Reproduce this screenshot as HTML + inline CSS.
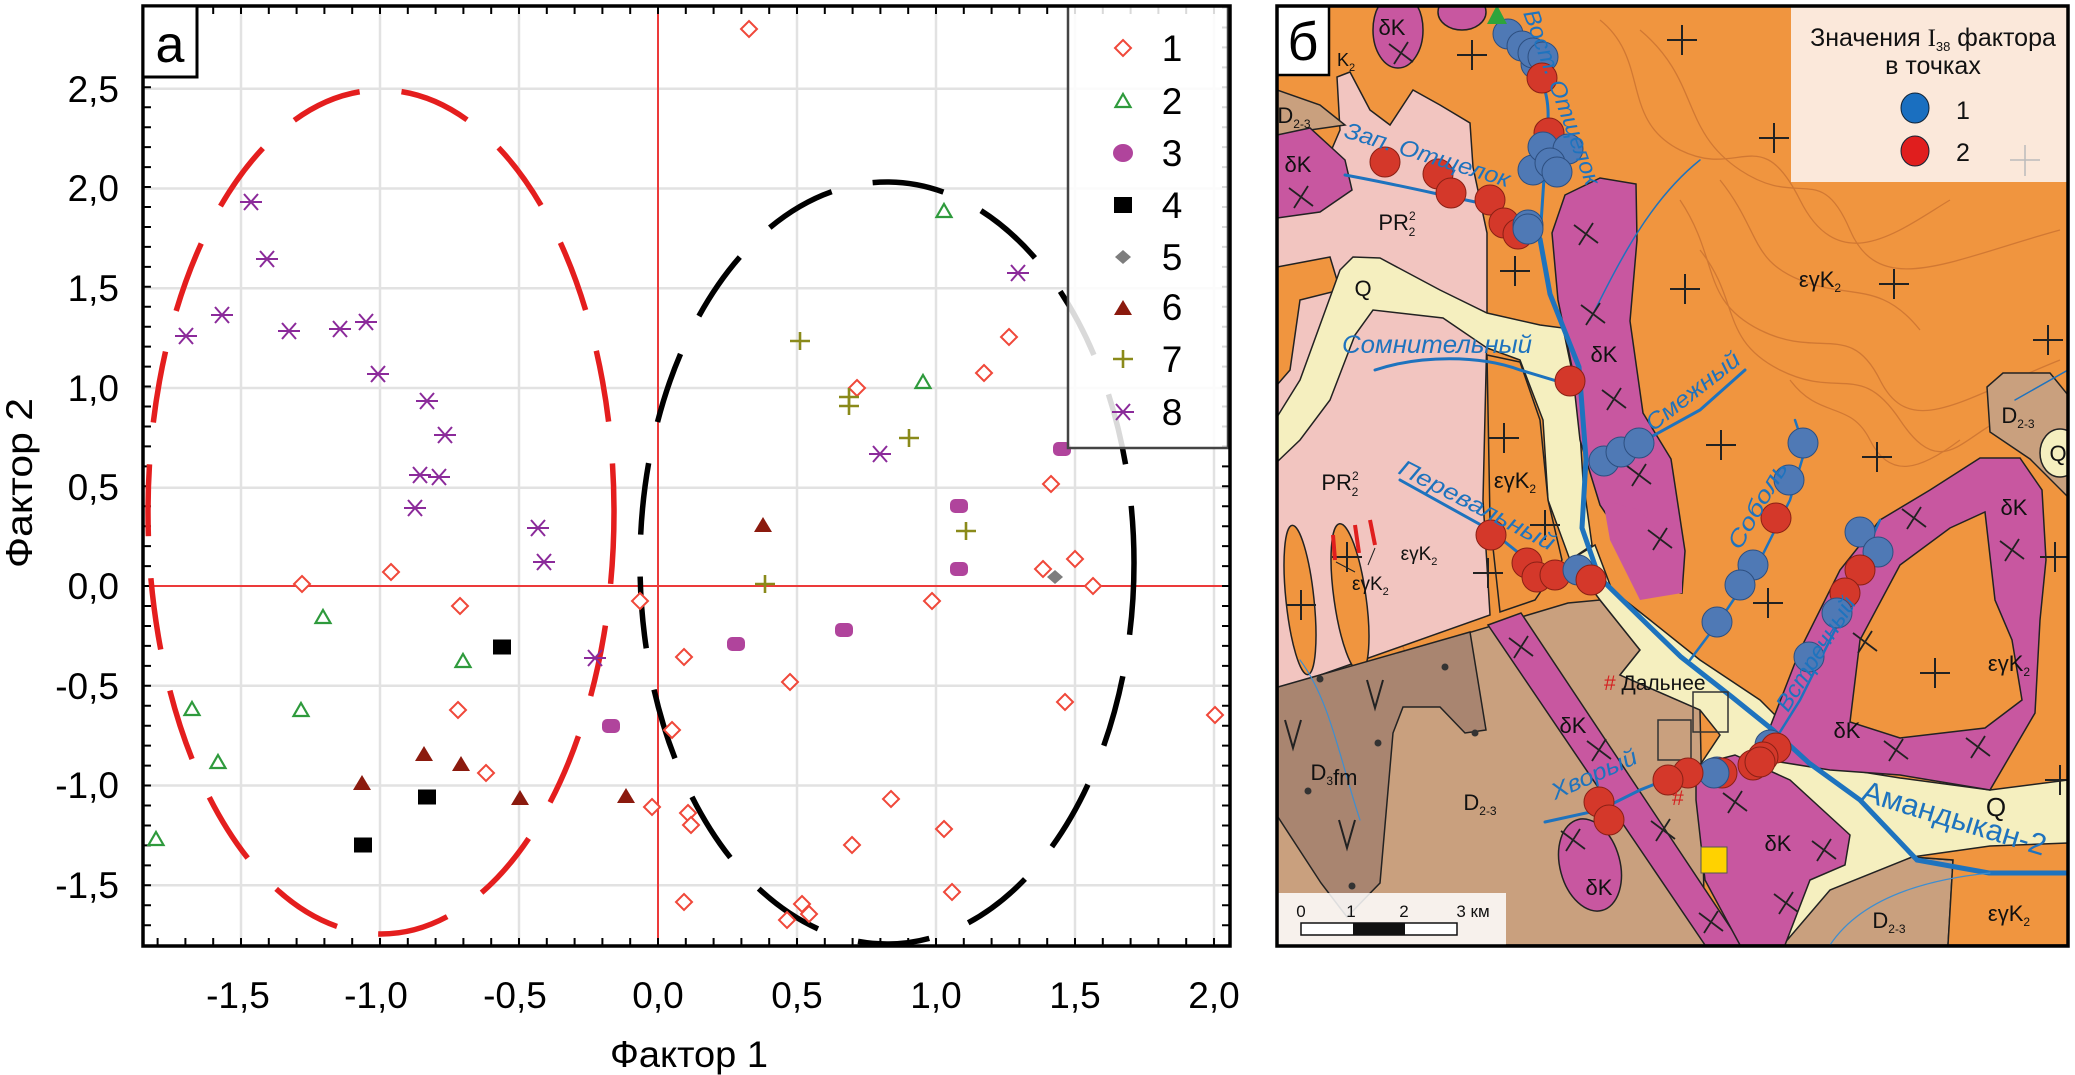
<!DOCTYPE html>
<html><head><meta charset="utf-8"><style>html,body{margin:0;padding:0;background:#fff}svg{display:block}</style></head>
<body>
<svg xmlns="http://www.w3.org/2000/svg" width="2075" height="1075" viewBox="0 0 2075 1075" font-family="'Liberation Sans', sans-serif">
<defs>
<polygon id="d1" points="0,-8 8,0 0,8 -8,0" fill="#fff" stroke="#f0483a" stroke-width="2"/>
<polygon id="t2" points="0,-7 7.5,6 -7.5,6" fill="none" stroke="#2e9a3c" stroke-width="2.2"/>
<rect id="c3" x="-9" y="-7" width="18" height="14" rx="5" fill="#b0449c"/>
<rect id="s4" x="-9" y="-7.5" width="18" height="15" fill="#000"/>
<polygon id="g5" points="0,-7 8,0 0,7 -8,0" fill="#7d7d7d"/>
<polygon id="r6" points="0,-8 9,7 -9,7" fill="#8b1a0e"/>
<path id="p7" d="M-10,0H10M0,-9V9" stroke="#8a8a1a" stroke-width="2.6"/>
<path id="a8" d="M-11,0H11M-7,-8L7,8M7,-8L-7,8" stroke="#8b2a9a" stroke-width="2"/>
<circle id="bc" r="15" fill="#4f79b5" stroke="#2d4f80" stroke-width="1"/>
<circle id="rc" r="15" fill="#d4382a" stroke="#8a2015" stroke-width="1"/>
<path id="pl" d="M-15,0H15M0,-15V15" stroke="#222" stroke-width="2"/>
<path id="xl" d="M-12,-9L12,9M-7,11L7,-11" stroke="#222" stroke-width="1.8"/>
</defs>

<!-- LEFT CHART -->
<g>
<g stroke="#e2e2e2" stroke-width="2.5">
<path d="M241,6V946M380,6V946M519,6V946M797,6V946M936,6V946M1075,6V946M1214,6V946"/>
<path d="M143,88.8H1230M143,188.5H1230M143,288.3H1230M143,388H1230M143,487.7H1230M143,685.8H1230M143,785.5H1230M143,885.3H1230"/>
</g>
<path d="M658,6V946M143,586H1230" stroke="#ec3a3a" stroke-width="2"/>
<!-- ticks -->
<g stroke="#000">
<line x1="147" y1="926.2" x2="147" y2="6" stroke-width="8" stroke-dasharray="2 17.95"/>
<line x1="1226" y1="926.2" x2="1226" y2="6" stroke-width="8" stroke-dasharray="2 17.95"/>
<line x1="156.6" y1="942" x2="1230" y2="942" stroke-width="8" stroke-dasharray="2 25.8"/>
<line x1="156.6" y1="10" x2="1230" y2="10" stroke-width="8" stroke-dasharray="2 25.8"/>
</g>
<!-- ellipses -->
<ellipse cx="381" cy="512" rx="233" ry="422" fill="none" stroke="#e41e1e" stroke-width="5.5" stroke-dasharray="72 42"/>
<ellipse cx="887" cy="563" rx="247" ry="381" fill="none" stroke="#000" stroke-width="5.5" stroke-dasharray="72 42"/>
<!-- series 1 -->
<g>
<use href="#d1" x="302" y="584"/><use href="#d1" x="391" y="572"/><use href="#d1" x="460" y="606"/><use href="#d1" x="458" y="710"/><use href="#d1" x="486" y="773"/><use href="#d1" x="640" y="601"/><use href="#d1" x="652" y="807"/>
<use href="#d1" x="749" y="29"/><use href="#d1" x="1009" y="337"/><use href="#d1" x="984" y="373"/><use href="#d1" x="857" y="388"/><use href="#d1" x="1051" y="484"/><use href="#d1" x="1075" y="559"/><use href="#d1" x="1043" y="569"/><use href="#d1" x="1093" y="586"/><use href="#d1" x="932" y="601"/><use href="#d1" x="684" y="657"/><use href="#d1" x="790" y="682"/><use href="#d1" x="1065" y="702"/><use href="#d1" x="1215" y="715"/><use href="#d1" x="672" y="730"/><use href="#d1" x="688" y="813"/><use href="#d1" x="691" y="825"/><use href="#d1" x="891" y="799"/><use href="#d1" x="852" y="845"/><use href="#d1" x="944" y="829"/><use href="#d1" x="684" y="902"/><use href="#d1" x="952" y="892"/><use href="#d1" x="802" y="904"/><use href="#d1" x="809" y="914"/><use href="#d1" x="787" y="920"/>
</g>
<g>
<use href="#t2" x="323" y="617"/><use href="#t2" x="463" y="661"/><use href="#t2" x="192" y="709"/><use href="#t2" x="301" y="710"/><use href="#t2" x="218" y="762"/><use href="#t2" x="156" y="839"/><use href="#t2" x="944" y="211"/><use href="#t2" x="923" y="382"/>
</g>
<g>
<use href="#c3" x="611" y="726"/><use href="#c3" x="1062" y="449"/><use href="#c3" x="959" y="506"/><use href="#c3" x="959" y="569"/><use href="#c3" x="844" y="630"/><use href="#c3" x="736" y="644"/>
</g>
<g><use href="#s4" x="502" y="647"/><use href="#s4" x="427" y="797"/><use href="#s4" x="363" y="845"/></g>
<use href="#g5" x="1055" y="577"/>
<g>
<use href="#r6" x="424" y="754"/><use href="#r6" x="461" y="764"/><use href="#r6" x="362" y="783"/><use href="#r6" x="520" y="798"/><use href="#r6" x="626" y="796"/><use href="#r6" x="763" y="525"/>
</g>
<g>
<use href="#p7" x="800" y="341"/><use href="#p7" x="849" y="397"/><use href="#p7" x="849" y="406"/><use href="#p7" x="909" y="438"/><use href="#p7" x="966" y="531"/><use href="#p7" x="765" y="584"/>
</g>
<g>
<use href="#a8" x="251" y="202"/><use href="#a8" x="267" y="259"/><use href="#a8" x="222" y="315"/><use href="#a8" x="186" y="336"/><use href="#a8" x="289" y="331"/><use href="#a8" x="340" y="329"/><use href="#a8" x="366" y="322"/><use href="#a8" x="378" y="374"/><use href="#a8" x="427" y="401"/><use href="#a8" x="445" y="435"/><use href="#a8" x="420" y="475"/><use href="#a8" x="439" y="477"/><use href="#a8" x="415" y="508"/><use href="#a8" x="538" y="528"/><use href="#a8" x="544" y="562"/><use href="#a8" x="595" y="658"/><use href="#a8" x="1018" y="273"/><use href="#a8" x="880" y="454"/>
</g>
<!-- legend -->
<rect x="1068" y="6" width="160" height="442" fill="#fff" fill-opacity="0.85" stroke="#444" stroke-width="2.5"/>
<g font-size="37" fill="#000" text-anchor="middle">
<use href="#d1" x="1123" y="48"/><text x="1172" y="61">1</text>
<use href="#t2" x="1123" y="101"/><text x="1172" y="114">2</text>
<ellipse cx="1123" cy="153" rx="10" ry="9" fill="#b0449c"/><text x="1172" y="166">3</text>
<rect x="1114" y="197" width="18" height="16" fill="#000"/><text x="1172" y="218">4</text>
<use href="#g5" x="1123" y="257"/><text x="1172" y="270">5</text>
<use href="#r6" x="1123" y="308"/><text x="1172" y="320">6</text>
<use href="#p7" x="1123" y="359"/><text x="1172" y="372">7</text>
<use href="#a8" x="1123" y="412"/><text x="1172" y="425">8</text>
</g>
<!-- axes box -->
<rect x="143" y="6" width="1087" height="940" fill="none" stroke="#000" stroke-width="3.5"/>
<rect x="143" y="6" width="54" height="71" fill="#fff" stroke="#000" stroke-width="3"/>
<text x="170" y="62" font-size="52" text-anchor="middle">а</text>
<!-- tick labels -->
<g font-size="37" text-anchor="middle">
<text x="238" y="1008">-1,5</text><text x="376" y="1008">-1,0</text><text x="515" y="1008">-0,5</text><text x="658" y="1008">0,0</text><text x="797" y="1008">0,5</text><text x="936" y="1008">1,0</text><text x="1075" y="1008">1,5</text><text x="1214" y="1008">2,0</text>
</g>
<g font-size="37" text-anchor="end">
<text x="119" y="102">2,5</text><text x="119" y="201">2,0</text><text x="119" y="301">1,5</text><text x="119" y="401">1,0</text><text x="119" y="500">0,5</text><text x="119" y="599">0,0</text><text x="119" y="699">-0,5</text><text x="119" y="798">-1,0</text><text x="119" y="898">-1,5</text>
</g>
<text x="689" y="1067" font-size="37" text-anchor="middle" textLength="158" lengthAdjust="spacingAndGlyphs">Фактор 1</text>
<text transform="translate(32,483) rotate(-90)" font-size="37" text-anchor="middle" textLength="170" lengthAdjust="spacingAndGlyphs">Фактор 2</text>
</g>

<!-- RIGHT MAP -->
<svg x="1277" y="6" width="791" height="940" viewBox="1277 6 791 940" overflow="hidden">
<rect x="1277" y="6" width="791" height="940" fill="#f0953f"/>
<!-- contour texture -->
<g fill="none" stroke="#b9622a" stroke-width="1.3" opacity="0.55">
<path d="M1600,20 C1650,60 1620,120 1680,150 S1760,120 1800,200 S1900,230 1950,200"/>
<path d="M1640,30 C1700,80 1680,130 1740,170 S1820,160 1850,230 S1950,260 2060,230"/>
<path d="M1680,200 C1720,260 1700,300 1760,330 S1850,320 1880,380 S1960,400 2060,360"/>
<path d="M1700,250 C1740,300 1720,340 1780,370 S1860,360 1900,420 S1960,440 2000,420"/>
<path d="M1720,180 C1760,230 1750,260 1800,280 S1880,280 1920,330"/>
<path d="M1860,60 C1880,100 1920,100 1940,140 S2000,180 2060,170"/>
<path d="M1790,380 C1820,420 1850,400 1870,440 S1920,470 1960,440"/>
<path d="M1300,560 C1330,600 1380,590 1400,640 S1450,700 1480,680"/>
<path d="M1320,740 C1360,780 1400,760 1420,820 S1470,880 1500,870"/>
<path d="M1440,700 C1480,740 1510,720 1530,780 S1580,820 1600,900"/>
<path d="M1880,870 C1920,890 1960,880 2000,910 S2050,930 2068,920"/>
</g>
<!-- pink PR -->
<polygon points="1277,217 1310,200 1340,130 1337,77 1350,72 1370,110 1390,125 1413,90 1440,105 1470,123 1473,167 1487,233 1487,330 1483,500 1490,615 1278,690" fill="#f2c5c0" stroke="#222" stroke-width="1.5"/>
<polygon points="1277,267 1330,257 1340,290 1300,300 1290,370 1277,385" fill="#f0953f" stroke="#222" stroke-width="1.5"/>
<!-- orange fingers -->
<ellipse cx="1300" cy="600" rx="14" ry="75" transform="rotate(-6 1300 600)" fill="#f0953f" stroke="#222" stroke-width="1.5"/>
<ellipse cx="1350" cy="598" rx="16" ry="75" transform="rotate(-8 1350 598)" fill="#f0953f" stroke="#222" stroke-width="1.5"/>
<!-- Q upper -->
<polygon points="1277,417 1300,380 1340,270 1353,257 1380,258 1440,290 1487,313 1540,325 1563,328 1578,400 1583,480 1592,545 1570,560 1548,500 1543,420 1520,360 1487,348 1443,318 1373,310 1355,335 1330,400 1300,440 1277,462" fill="#f5efbf" stroke="#222" stroke-width="1.5"/>
<polygon points="1487,355 1520,362 1540,420 1548,500 1562,560 1535,600 1500,612 1490,520" fill="#f0953f" stroke="#222" stroke-width="1.5"/>
<!-- brown D2-3 lower -->
<polygon points="1278,690 1568,603 1600,600 1640,650 1620,675 1700,710 1705,945 1277,945" fill="#c9a07e" stroke="#222" stroke-width="1.5"/>
<polygon points="1278,687 1470,632 1486,730 1465,733 1440,707 1403,707 1393,733 1380,883 1347,917 1321,883 1278,817" fill="#a98570" stroke="#222" stroke-width="1.5"/>
<!-- Q lower -->
<polygon points="1570,560 1595,545 1612,590 1650,620 1700,660 1760,700 1800,740 1850,770 1900,778 1990,790 2068,780 2068,847 1990,850 1912,857 1880,880 1840,945 1780,945 1705,870 1700,765 1720,735 1700,710 1620,675 1640,650 1600,600" fill="#f5efbf" stroke="#222" stroke-width="1.5"/>
<polygon points="1783,945 1830,890 1912,857 1953,860 1948,945" fill="#c9a07e" stroke="#222" stroke-width="1.5"/>
<polygon points="1912,857 1990,846 2068,843 2068,945 1948,945 1953,860" fill="#f0953f" stroke="#222" stroke-width="1.5"/>
<!-- top-left brown + magenta -->
<polygon points="1277,90 1320,105 1345,125 1310,130 1277,135" fill="#c9a07e" stroke="#222" stroke-width="1.5"/>
<polygon points="1277,135 1310,128 1345,160 1352,190 1320,212 1277,218" fill="#c857a0" stroke="#222" stroke-width="1.5"/>
<ellipse cx="1398" cy="30" rx="25" ry="38" fill="#c857a0" stroke="#222" stroke-width="1.5"/>
<ellipse cx="1462" cy="12" rx="24" ry="18" fill="#c857a0" stroke="#222" stroke-width="1.5"/>
<!-- main magenta -->
<polygon points="1552,233 1565,195 1600,178 1636,184 1637,240 1630,321 1643,413 1671,459 1685,551 1682,593 1650,590 1643,569 1600,505 1580,440 1572,367 1558,300" fill="#c857a0" stroke="#222" stroke-width="1.5"/>
<polygon points="1603,500 1640,510 1682,560 1682,593 1640,600 1610,540" fill="#c857a0" stroke="none"/>
<!-- diagonal magenta strip -->
<polygon points="1488,625 1521,613 1742,945 1705,945" fill="#c857a0" stroke="#222" stroke-width="1.5"/>
<polygon points="1696,765 1735,755 1790,780 1850,835 1845,865 1810,880 1785,945 1740,945 1705,880 1696,800" fill="#c857a0" stroke="#222" stroke-width="1.5"/>
<ellipse cx="1590" cy="865" rx="30" ry="47" transform="rotate(-15 1590 865)" fill="#c857a0" stroke="#222" stroke-width="1.5"/>
<!-- C-shaped magenta -->
<polygon points="1765,740 1800,650 1840,570 1880,520 1930,490 1980,458 2020,458 2042,490 2046,560 2040,620 2035,713 1990,790 1900,775 1830,770 1780,762" fill="#c857a0" stroke="#222" stroke-width="1.5"/>
<polygon points="1850,722 1860,640 1900,565 1950,528 1985,512 1995,600 2012,640 2022,700 1985,728 1900,738" fill="#f0953f" stroke="#222" stroke-width="1.5"/>
<!-- D2-3 top-right -->
<polygon points="1987,387 2003,373 2050,373 2068,395 2068,497 2030,459 1990,432" fill="#c9a07e" stroke="#222" stroke-width="1.5"/>
<ellipse cx="2060" cy="453" rx="20" ry="24" fill="#f5efbf" stroke="#222" stroke-width="1.5"/>
<!-- rivers -->
<g fill="none" stroke="#1e73be" stroke-linecap="round">
<path d="M1540,239 L1550,294 L1579,367 L1586,459 L1582,528 L1599,577 L1650,627 L1681,657 L1732,697 L1773,730 L1809,763 L1860,800 L1917,860 L1989,873 L2068,873" stroke-width="5"/>
<path d="M1510,30 C1530,60 1550,80 1548,120 L1543,193 L1540,239" stroke-width="3"/>
<path d="M1345,175 C1400,185 1440,195 1490,205 L1530,232" stroke-width="3"/>
<path d="M1375,370 C1420,355 1480,355 1520,370 L1570,385" stroke-width="3"/>
<path d="M1400,480 L1490,530 L1540,570 L1580,572" stroke-width="3"/>
<path d="M1605,460 L1640,443 L1700,410 L1745,370" stroke-width="3"/>
<path d="M1795,420 L1805,450 L1790,500 L1760,560 L1720,620 L1690,660" stroke-width="2.5"/>
<path d="M1880,520 L1862,560 L1840,620 L1800,700 L1775,740" stroke-width="2.5"/>
<path d="M1545,822 L1600,810 L1640,790 L1690,770" stroke-width="3"/>
<path d="M1590,320 C1620,260 1650,200 1700,160 1720,120" stroke-width="1.5"/>
<path d="M2015,400 L2068,370" stroke-width="1.5"/>
<path d="M1300,660 C1330,700 1340,760 1360,820 1370,880 1390,945" stroke-width="1.2" stroke="#3e8ed0"/>
<path d="M1830,945 C1860,900 1920,880 1990,873" stroke-width="1.2" stroke="#3e8ed0"/>
</g>
<!-- crosses -->
<g>
<use href="#pl" x="1472" y="55"/><use href="#pl" x="1682" y="40"/><use href="#pl" x="1774" y="138"/><use href="#pl" x="1515" y="271"/><use href="#pl" x="1685" y="289"/><use href="#pl" x="1894" y="284"/><use href="#pl" x="2048" y="340"/><use href="#pl" x="1504" y="438"/><use href="#pl" x="1721" y="445"/><use href="#pl" x="1877" y="457"/><use href="#pl" x="1545" y="525"/><use href="#pl" x="1488" y="573"/><use href="#pl" x="1347" y="557"/><use href="#pl" x="1301" y="605"/><use href="#pl" x="1768" y="603"/><use href="#pl" x="1935" y="673"/><use href="#pl" x="2055" y="557"/><use href="#pl" x="2060" y="780"/>
<use href="#xl" x="1586" y="234"/><use href="#xl" x="1593" y="314"/><use href="#xl" x="1614" y="399"/><use href="#xl" x="1639" y="475"/><use href="#xl" x="1660" y="539"/><use href="#xl" x="1301" y="197"/><use href="#xl" x="1401" y="53"/><use href="#xl" x="1521" y="647"/><use href="#xl" x="1599" y="750"/><use href="#xl" x="1663" y="830"/><use href="#xl" x="1711" y="922"/><use href="#xl" x="1735" y="802"/><use href="#xl" x="1824" y="850"/><use href="#xl" x="1786" y="903"/><use href="#xl" x="1573" y="840"/><use href="#xl" x="1896" y="750"/><use href="#xl" x="1978" y="747"/><use href="#xl" x="1865" y="642"/><use href="#xl" x="2012" y="550"/><use href="#xl" x="1914" y="518"/>
</g>
<!-- V and dots on D3fm -->
<g fill="none" stroke="#222" stroke-width="2"><path d="M1367,680 L1375,708 L1383,680M1285,720 L1293,748 L1301,720M1339,820 L1347,848 L1355,820"/></g>
<g fill="#333"><circle cx="1320" cy="679" r="3.5"/><circle cx="1445" cy="667" r="3.5"/><circle cx="1475" cy="733" r="3.5"/><circle cx="1378" cy="743" r="3.5"/><circle cx="1308" cy="791" r="3.5"/><circle cx="1352" cy="886" r="3.5"/></g>
<!-- small boxes and square -->
<rect x="1693" y="692" width="35" height="40" fill="none" stroke="#333" stroke-width="1.5"/>
<rect x="1658" y="720" width="33" height="40" fill="none" stroke="#333" stroke-width="1.5"/>
<rect x="1701" y="847" width="26" height="26" fill="#ffd200" stroke="#555" stroke-width="1"/>
<!-- points -->
<g>
<use href="#bc" x="1508" y="34"/><use href="#bc" x="1522" y="46"/><use href="#bc" x="1536" y="64"/><use href="#bc" x="1533" y="53"/><use href="#bc" x="1543" y="57"/><use href="#rc" x="1542" y="78"/>
<use href="#rc" x="1549" y="133"/><use href="#bc" x="1533" y="170"/><use href="#bc" x="1543" y="147"/><use href="#bc" x="1568" y="149"/><use href="#bc" x="1550" y="163"/><use href="#bc" x="1557" y="172"/>
<use href="#rc" x="1385" y="162"/><use href="#rc" x="1438" y="174"/><use href="#rc" x="1451" y="193"/><use href="#rc" x="1490" y="200"/><use href="#rc" x="1504" y="223"/><use href="#rc" x="1518" y="234"/><use href="#bc" x="1528" y="225"/><use href="#bc" x="1528" y="229"/>
<use href="#rc" x="1570" y="381"/><use href="#bc" x="1604" y="461"/><use href="#bc" x="1621" y="452"/><use href="#bc" x="1639" y="443"/>
<use href="#rc" x="1491" y="535"/><use href="#rc" x="1527" y="563"/><use href="#rc" x="1537" y="577"/><use href="#rc" x="1555" y="575"/><use href="#bc" x="1578" y="570"/><use href="#rc" x="1591" y="580"/>
<use href="#bc" x="1803" y="443"/><use href="#bc" x="1789" y="480"/><use href="#rc" x="1776" y="518"/><use href="#bc" x="1753" y="565"/><use href="#bc" x="1740" y="585"/><use href="#bc" x="1717" y="622"/>
<use href="#bc" x="1860" y="532"/><use href="#bc" x="1878" y="552"/><use href="#rc" x="1860" y="570"/><use href="#rc" x="1845" y="593"/><use href="#bc" x="1837" y="613"/><use href="#bc" x="1809" y="657"/>
<use href="#bc" x="1770" y="745"/><use href="#rc" x="1776" y="748"/><use href="#rc" x="1763" y="757"/><use href="#rc" x="1753" y="765"/><use href="#rc" x="1760" y="762"/><use href="#bc" x="1717" y="772"/><use href="#rc" x="1722" y="773"/><use href="#bc" x="1714" y="773"/><use href="#rc" x="1688" y="773"/><use href="#rc" x="1668" y="780"/><use href="#rc" x="1599" y="802"/><use href="#rc" x="1609" y="820"/>
</g>
<polygon points="1497,5 1507,24 1487,24" fill="#2ea43c"/>
<!-- map text -->
<g font-size="22" fill="#111">
<text x="1298" y="172" text-anchor="middle">δK</text><text x="1604" y="362" text-anchor="middle">δK</text><text x="1392" y="35" text-anchor="middle">δK</text>
<text x="1820" y="287" text-anchor="middle">εγK<tspan font-size="12" dy="5">2</tspan></text>
<text x="1515" y="488" text-anchor="middle">εγK<tspan font-size="12" dy="5">2</tspan></text>
<text x="1419" y="560" text-anchor="middle" font-size="19">εγK<tspan font-size="11" dy="5">2</tspan></text>
<text x="2009" y="671" text-anchor="middle">εγK<tspan font-size="12" dy="5">2</tspan></text>
<text x="2009" y="921" text-anchor="middle">εγK<tspan font-size="12" dy="5">2</tspan></text>
<text x="1397" y="230" text-anchor="middle">PR<tspan font-size="12" dy="-10">2</tspan><tspan font-size="12" dx="-7" dy="16">2</tspan></text>
<text x="1340" y="490" text-anchor="middle">PR<tspan font-size="12" dy="-10">2</tspan><tspan font-size="12" dx="-7" dy="16">2</tspan></text>
<text x="1363" y="296" text-anchor="middle">Q</text><text x="1996" y="816" text-anchor="middle" font-size="26">Q</text><text x="2058" y="461" text-anchor="middle">Q</text>
<text x="1294" y="123" text-anchor="middle">D<tspan font-size="12" dy="5">2-3</tspan></text>
<text x="2018" y="423" text-anchor="middle">D<tspan font-size="12" dy="5">2-3</tspan></text>
<text x="1480" y="810" text-anchor="middle">D<tspan font-size="12" dy="5">2-3</tspan></text>
<text x="1889" y="928" text-anchor="middle">D<tspan font-size="12" dy="5">2-3</tspan></text>
<text x="1334" y="780" text-anchor="middle">D<tspan font-size="12" dy="5">3</tspan>fm</text>
<text x="1573" y="733" text-anchor="middle">δK</text><text x="1599" y="895" text-anchor="middle">δK</text><text x="1778" y="851" text-anchor="middle">δK</text><text x="1847" y="738" text-anchor="middle">δK</text><text x="2014" y="515" text-anchor="middle">δK</text>
<text x="1337" y="66" font-size="18">K<tspan font-size="11" dy="5">2</tspan></text>
<text x="1604" y="690" font-size="21"><tspan fill="#d42020">#</tspan> Дальнее</text>
<text x="1672" y="805" font-size="21" fill="#d42020">#</text>
</g>
<g font-size="23" fill="#1e73be" font-style="italic">
<text transform="translate(1523,13) rotate(70)" textLength="185" lengthAdjust="spacingAndGlyphs">Вост. Отщелок</text>
<text transform="translate(1343,137) rotate(17)" textLength="172" lengthAdjust="spacingAndGlyphs">Зап. Отщелок</text>
<text x="1342" y="353" font-size="25" textLength="190" lengthAdjust="spacingAndGlyphs">Сомнительный</text>
<text transform="translate(1397,473) rotate(27)" textLength="172" lengthAdjust="spacingAndGlyphs">Перевальный</text>
<text transform="translate(1653,432) rotate(-38)" textLength="113" lengthAdjust="spacingAndGlyphs">Смежный</text>
<text transform="translate(1740,551) rotate(-60)" textLength="97" lengthAdjust="spacingAndGlyphs">Соболь</text>
<text transform="translate(1788,713) rotate(-58)" textLength="130" lengthAdjust="spacingAndGlyphs">Встречный</text>
<text transform="translate(1555,800) rotate(-24)" textLength="92" lengthAdjust="spacingAndGlyphs">Хворый</text>
<text transform="translate(1860,800) rotate(17)" font-size="30" font-style="normal" textLength="191" lengthAdjust="spacingAndGlyphs">Амандыкан-2</text>
</g>
<!-- red dikes -->
<g stroke="#e01e1e" stroke-width="4"><path d="M1333,535 L1335,560M1355,525 L1359,553M1370,520 L1375,545"/></g>
<g stroke="#222" stroke-width="1"><path d="M1336,562 L1355,572M1375,548 L1368,565"/></g>
<text x="1352" y="590" font-size="19" fill="#111">εγK<tspan font-size="11" dy="5">2</tspan></text>
<!-- legend -->
<rect x="1791" y="6" width="277" height="176" fill="#fbe8da"/>
<g font-size="25" text-anchor="middle" fill="#111">
<text x="1933" y="46">Значения <tspan font-family="'Liberation Serif', serif">I</tspan><tspan font-size="13" dy="5">38</tspan><tspan dy="-5"> фактора</tspan></text>
<text x="1933" y="74">в точках</text>
<text x="1963" y="119">1</text><text x="1963" y="161">2</text>
</g>
<ellipse cx="1915" cy="108" rx="14" ry="15" fill="#1a6fc0" stroke="#123" stroke-width="1"/>
<ellipse cx="1915" cy="151" rx="14" ry="15" fill="#e01e1e" stroke="#123" stroke-width="1"/>
<path d="M2010,160 H2040 M2025,145 V176" stroke="#bbb" stroke-width="1.5"/>
<!-- scale bar -->
<rect x="1278" y="893" width="228" height="53" fill="#fff" fill-opacity="0.85"/>
<g font-size="17" fill="#111" text-anchor="middle"><text x="1301" y="917">0</text><text x="1351" y="917">1</text><text x="1404" y="917">2</text><text x="1473" y="917">3 км</text></g>
<rect x="1301" y="923" width="156" height="12" fill="#fff" stroke="#111" stroke-width="1.5"/>
<rect x="1353" y="923" width="52" height="12" fill="#111"/>
<!-- б box -->
<rect x="1277" y="6" width="52" height="69" fill="#fff" stroke="#000" stroke-width="2.5"/>
<text x="1303" y="60" font-size="54" text-anchor="middle">б</text>
</svg>
<rect x="1277" y="6" width="791" height="940" fill="none" stroke="#000" stroke-width="3.5"/>
</svg>
</body></html>
